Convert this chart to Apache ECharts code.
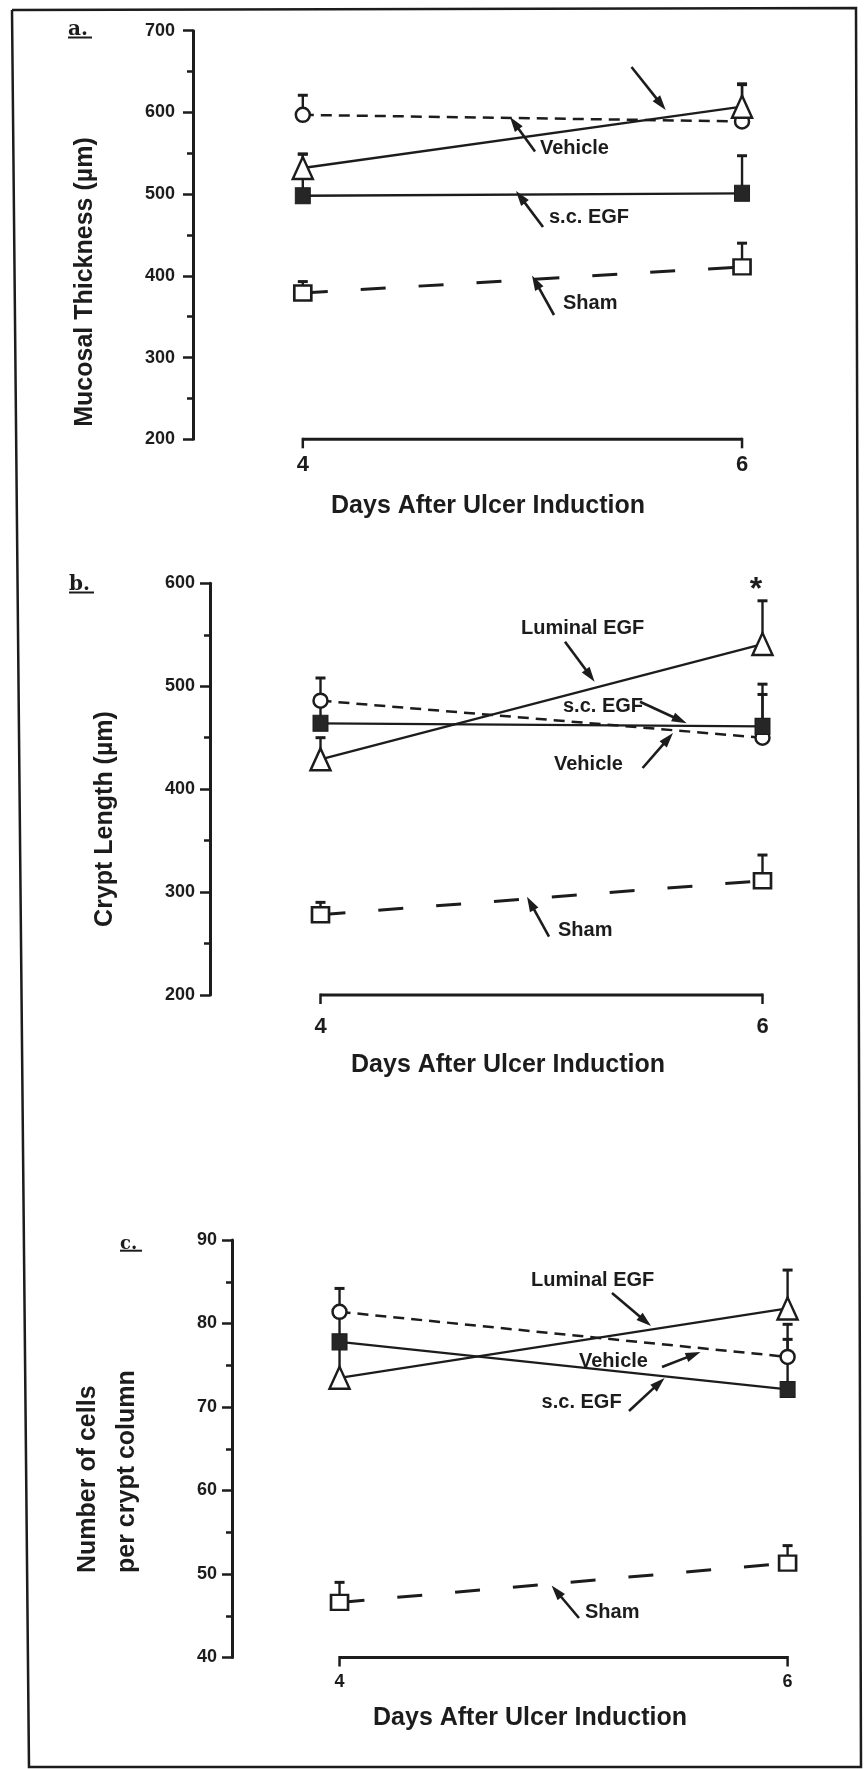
<!DOCTYPE html>
<html><head><meta charset="utf-8">
<script src="https://cdn.jsdelivr.net/npm/echarts@6/dist/echarts.min.js"></script>
<style>html,body{margin:0;padding:0;background:#fff}#c{width:865px;height:1769px}</style>
</head><body><div id="c"></div>
<script>
// ---------- data ----------
const days = [4, 6];
const xTickValues = [4, 6];

// panel a : Mucosal thickness (µm)
const aYTicks = [200, 300, 400, 500, 600, 700];
const aVehicle = [597, 589],  aVehicleErr = [621, 634];
const aLuminal = [532, 607],  aLuminalErr = [549, 635];
const aSc      = [498, 501],  aScErr      = [549, 547];
const aSham    = [379, 411],  aShamErr    = [393, 440];

// panel b : Crypt length (µm)
const bYTicks = [200, 300, 400, 500, 600];
const bVehicle = [486, 450],  bVehicleErr = [508, 492];
const bLuminal = [429, 541],  bLuminalErr = [450, 583];
const bSc      = [464, 461],  bScErr      = [489, 502];
const bSham    = [278, 311],  bShamErr    = [290, 336];

// panel c : Number of cells per crypt column
const cYTicks = [40, 50, 60, 70, 80, 90];
const cVehicle = [81.4, 76.0], cVehicleErr = [84.2, 79.9];
const cLuminal = [73.5, 81.8], cLuminalErr = [81.0, 86.4];
const cSc      = [77.8, 72.1], cScErr      = [null, 78.1];
const cSham    = [46.6, 51.3], cShamErr    = [49.0, 53.4];

// ---------- styles ----------
const INK = '#1c1c1c';
const FONT = '"Liberation Sans", Arial, Helvetica, sans-serif';

const panels = [
  { grid: {left: 193, top: 30.7, width: 571, height: 408.6}, xMin: 3.5,
    yTicks: aYTicks, yMargin: 18, xFont: 22, xMargin: 15,
    vehicle: [aVehicle, aVehicleErr], luminal: [aLuminal, aLuminalErr], sc: [aSc, aScErr], sham: [aSham, aShamErr] },
  { grid: {left: 210, top: 583.3, width: 574.6, height: 411.7}, xMin: 3.5,
    yTicks: bYTicks, yMargin: 15, xFont: 22, xMargin: 21,
    vehicle: [bVehicle, bVehicleErr], luminal: [bLuminal, bLuminalErr], sc: [bSc, bScErr], sham: [bSham, bShamErr] },
  { grid: {left: 232, top: 1240, width: 578, height: 417.5}, xMin: 3.52,
    yTicks: cYTicks, yMargin: 15, xFont: 18, xMargin: 16,
    vehicle: [cVehicle, cVehicleErr], luminal: [cLuminal, cLuminalErr], sc: [cSc, cScErr], sham: [cSham, cShamErr] }
];

function pts(vals) { return days.map((d, i) => [d, vals[i]]); }
function errData(vals, errs) {
  const out = [];
  days.forEach((d, i) => { if (errs[i] != null) out.push([d, vals[i], errs[i]]); });
  return out;
}

const grids = [], xAxes = [], yAxes = [], series = [];
panels.forEach((p, k) => {
  grids.push(Object.assign({containLabel: false}, p.grid));
  xAxes.push({
    type: 'value', gridIndex: k, min: p.xMin, max: 6.1,
    axisLine: {show: false}, axisTick: {show: false}, splitLine: {show: false},
    axisLabel: {show: true, customValues: xTickValues, margin: p.xMargin,
      fontSize: p.xFont, fontWeight: 'bold', fontFamily: FONT, color: INK,
      formatter: v => String(v)}
  });
  const yt = p.yTicks;
  yAxes.push({
    type: 'value', gridIndex: k, min: yt[0], max: yt[yt.length - 1], interval: yt[1] - yt[0],
    axisLine: {show: true, lineStyle: {color: INK, width: 3}},
    axisTick: {show: true, length: 10, lineStyle: {color: INK, width: 2.5}},
    minorTick: {show: true, splitNumber: 2, length: 6, lineStyle: {color: INK, width: 2.5}},
    splitLine: {show: false},
    axisLabel: {margin: p.yMargin, fontSize: 18, fontWeight: 'bold', fontFamily: FONT, color: INK,
      formatter: v => String(v)}
  });

  // x bracket (4 .. 6) at the bottom of the value range
  series.push({
    type: 'custom', xAxisIndex: k, yAxisIndex: k, silent: true, z: 1,
    data: [[xTickValues[0], xTickValues[1], yt[0]]],
    renderItem: (params, api) => {
      const a = api.coord([api.value(0), api.value(2)]);
      const b = api.coord([api.value(1), api.value(2)]);
      return {type: 'group', children: [
        {type: 'line', shape: {x1: a[0], y1: a[1], x2: b[0], y2: b[1]}, style: {stroke: INK, lineWidth: 3}},
        {type: 'line', shape: {x1: a[0], y1: a[1] - 1.5, x2: a[0], y2: a[1] + 9}, style: {stroke: INK, lineWidth: 2.5}},
        {type: 'line', shape: {x1: b[0], y1: b[1] - 1.5, x2: b[0], y2: b[1] + 9}, style: {stroke: INK, lineWidth: 2.5}}
      ]};
    }
  });

  // error bars (upper only)
  const errs = [].concat(errData(p.vehicle[0], p.vehicle[1]), errData(p.luminal[0], p.luminal[1]),
                         errData(p.sc[0], p.sc[1]), errData(p.sham[0], p.sham[1]));
  series.push({
    type: 'custom', xAxisIndex: k, yAxisIndex: k, silent: true, z: 2,
    data: errs,
    renderItem: (params, api) => {
      const p0 = api.coord([api.value(0), api.value(1)]);
      const p1 = api.coord([api.value(0), api.value(2)]);
      return {type: 'group', children: [
        {type: 'line', shape: {x1: p0[0], y1: p0[1], x2: p1[0], y2: p1[1]}, style: {stroke: INK, lineWidth: 2.4}},
        {type: 'line', shape: {x1: p1[0] - 5, y1: p1[1], x2: p1[0] + 5, y2: p1[1]}, style: {stroke: INK, lineWidth: 3}}
      ]};
    }
  });

  const hollow = {color: '#fff', borderColor: INK, borderWidth: 2.5};
  series.push({
    name: 'Vehicle', type: 'line', xAxisIndex: k, yAxisIndex: k, z: 3, silent: true,
    data: pts(p.vehicle[0]), symbol: 'circle', symbolSize: 14, itemStyle: hollow,
    lineStyle: {color: INK, width: 2.5, type: [11, 7]}
  });
  series.push({
    name: 'Luminal EGF', type: 'line', xAxisIndex: k, yAxisIndex: k, z: 4, silent: true,
    data: pts(p.luminal[0]), symbol: 'triangle', symbolSize: [20, 22], itemStyle: hollow,
    lineStyle: {color: INK, width: 2.3, type: 'solid'}
  });
  series.push({
    name: 's.c. EGF', type: 'line', xAxisIndex: k, yAxisIndex: k, z: 5, silent: true,
    data: pts(p.sc[0]), symbol: 'rect', symbolSize: [15, 16],
    itemStyle: {color: '#262626', borderColor: INK, borderWidth: 1},
    lineStyle: {color: INK, width: 2.3, type: 'solid'}
  });
  series.push({
    name: 'Sham', type: 'line', xAxisIndex: k, yAxisIndex: k, z: 3, silent: true,
    data: pts(p.sham[0]), symbol: 'rect', symbolSize: [17, 15], itemStyle: hollow,
    lineStyle: {color: INK, width: 3, type: [25, 33]}
  });
});

// ---------- annotations ----------
function txt(x, y, s, size, opt) {
  opt = opt || {};
  return {type: 'text', x: x, y: y, rotation: opt.rot || 0, silent: true,
    style: {text: s, fill: INK, font: 'bold ' + size + 'px ' + (opt.family || FONT),
      align: opt.align || 'left', textAlign: opt.align || 'left',
      verticalAlign: opt.va || 'middle', textVerticalAlign: opt.va || 'middle'}};
}
function arrow(x1, y1, x2, y2) {
  const dx = x2 - x1, dy = y2 - y1, L = Math.hypot(dx, dy), ux = dx / L, uy = dy / L;
  const hl = 15, hw = 4.8;
  const bx = x2 - ux * hl, by = y2 - uy * hl;
  return [
    {type: 'line', silent: true, shape: {x1: x1, y1: y1, x2: bx + ux * 3, y2: by + uy * 3}, style: {stroke: INK, lineWidth: 2.6}},
    {type: 'polygon', silent: true, shape: {points: [[x2, y2], [bx - uy * hw, by + ux * hw], [bx + uy * hw, by - ux * hw]]}, style: {fill: INK}}
  ];
}
function uline(x1, x2, y) {
  return {type: 'line', silent: true, shape: {x1: x1, y1: y, x2: x2, y2: y}, style: {stroke: INK, lineWidth: 2}};
}
const SERIF = '"DejaVu Serif", "Liberation Serif", serif';
const graphics = [
  {type: 'polyline', silent: true, shape: {points: [[12, 10], [856, 8], [861, 1767], [29, 1767], [12, 10]]},
   style: {stroke: INK, lineWidth: 2.5, fill: null}},
  // panel labels
  txt(68, 40, 'a.', 20, {va: 'bottom', family: SERIF}), uline(68, 92, 37.5),
  txt(69, 595, 'b.', 20, {va: 'bottom', family: SERIF}), uline(69, 94, 592.5),
  txt(120, 1253.5, 'c.', 18, {va: 'bottom', family: SERIF}), uline(120, 142, 1250.7),
  // axis titles
  txt(85.5, 282, 'Mucosal Thickness (\u00b5m)', 25, {rot: Math.PI / 2, align: 'center'}),
  txt(105, 819, 'Crypt Length (\u00b5m)', 25, {rot: Math.PI / 2, align: 'center'}),
  txt(88, 1573, 'Number of cells', 25, {rot: Math.PI / 2, align: 'left'}),
  txt(127, 1573, 'per crypt column', 25, {rot: Math.PI / 2, align: 'left'}),
  txt(488, 506, 'Days After Ulcer Induction', 25, {align: 'center'}),
  txt(508, 1065, 'Days After Ulcer Induction', 25, {align: 'center'}),
  txt(530, 1718, 'Days After Ulcer Induction', 25, {align: 'center'}),
  // panel a labels
  txt(540, 148, 'Vehicle', 20), txt(549, 217, 's.c. EGF', 20), txt(563, 303, 'Sham', 20),
  // panel b labels
  txt(521, 628, 'Luminal EGF', 20), txt(563, 706.7, 's.c. EGF', 20), txt(554, 764, 'Vehicle', 20),
  txt(558, 930, 'Sham', 20), txt(756, 590, '*', 32, {align: 'center'}),
  // panel c labels
  txt(531, 1280, 'Luminal EGF', 20), txt(579, 1361.6, 'Vehicle', 20), txt(541.6, 1402, 's.c. EGF', 20),
  txt(585, 1612, 'Sham', 20)
].concat(
  arrow(631.5, 67, 665.7, 110), arrow(535, 151.5, 510, 117), arrow(543, 227, 516, 191), arrow(554, 315, 532, 275.5),
  arrow(565, 641.7, 594.6, 681.7), arrow(640, 701.7, 686.7, 723.3), arrow(642.6, 768, 673, 733), arrow(549, 936.7, 527, 896.7),
  arrow(612, 1293, 651, 1326), arrow(662, 1367, 700.5, 1352), arrow(629, 1411, 664.6, 1378), arrow(579, 1618, 551.6, 1585.6)
);

const chart = echarts.init(document.getElementById('c'), null, {renderer: 'canvas'});
chart.setOption({
  backgroundColor: '#fff',
  animation: false,
  grid: grids, xAxis: xAxes, yAxis: yAxes, series: series,
  graphic: {elements: graphics}
});
</script></body></html>
